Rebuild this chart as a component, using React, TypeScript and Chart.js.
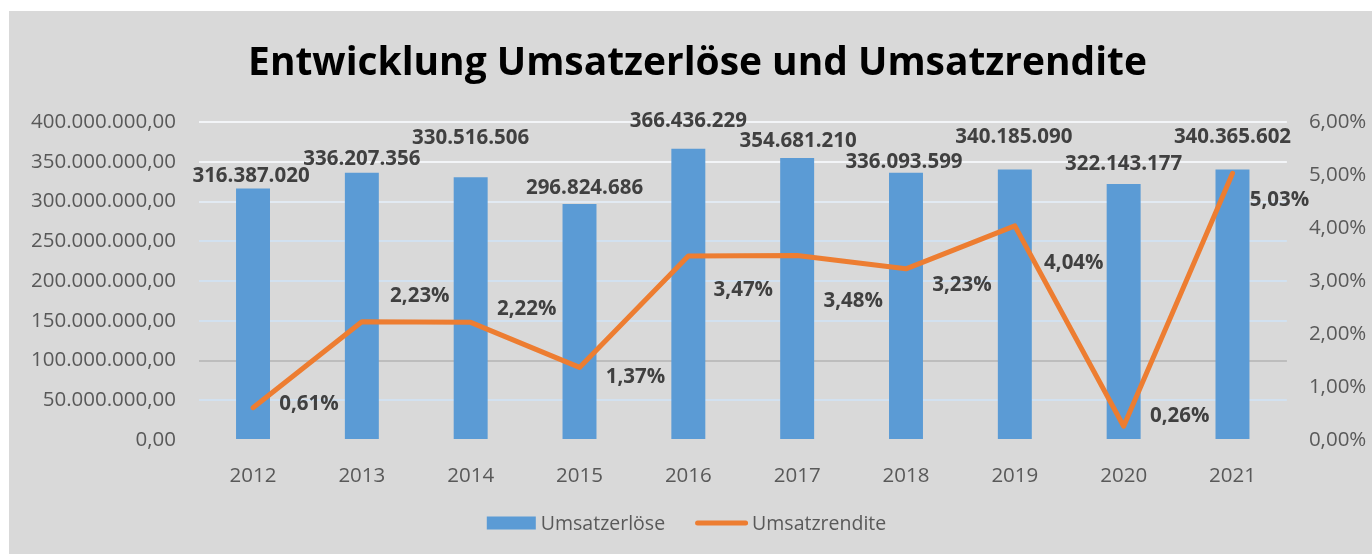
import React, { useEffect, useRef } from "react";
import { Chart, registerables } from "chart.js";

Chart.register(...registerables);

// ---- data ----
const years = ["2012", "2013", "2014", "2015", "2016", "2017", "2018", "2019", "2020", "2021"];
const umsatzerloese = [316387020, 336207356, 330516506, 296824686, 366436229, 354681210, 336093599, 340185090, 322143177, 340365602];
const umsatzrendite = [0.61, 2.23, 2.22, 1.37, 3.47, 3.48, 3.23, 4.04, 0.26, 5.03];
const leftAxisMax = 400000000;
const leftAxisStep = 50000000;
const rightAxisMax = 6;
const rightAxisStep = 1;
const chartTitle = "Entwicklung Umsatzerlöse und Umsatzrendite";
const seriesNames = ["Umsatzerlöse", "Umsatzrendite"];

// ---- styling ----
const W = 1363;
const H = 543;
const FONT = "'Open Sans', 'Noto Sans', sans-serif";
const BAR_COLOR = "#5b9bd5";
const LINE_COLOR = "#ed7d31";
const AXIS_TEXT = "#595959";
const LABEL_TEXT = "#404040";
const TICK_SIZE = 20.5;
const LABEL_SIZE = 20.5;
const LEGEND_SIZE = 19.5;

// manual label placement (pixel offsets from the mark), as in the original workbook
const barLabelOffsets: [number, number][] = [
  [-2, -14], [0, -15], [0, -41], [5, -17], [0, -29], [1, -18], [-2, -12], [-1, -34], [0, -21], [0, -34],
];
const lineLabelOffsets: [number, number][] = [
  [56, -5], [58, -27], [56, -15], [56, 8], [55, 33], [56, 44], [56, 15], [59, 36], [56, -12], [47, 25],
];

const formatDE = (n: number) =>
  Math.round(n).toString().replace(/\B(?=(\d{3})+(?!\d))/g, ".");
const formatPct = (v: number) => v.toFixed(2).replace(".", ",") + "%";

const gridColorFor = (v: number) => {
  if (v === 0) return "rgba(0,0,0,0)";
  if (v === 100000000) return "#bdbdbd";
  if (v >= 350000000) return "#f3f5f8";
  if (v === 300000000) return "#e2eaf3";
  return "#d2e1f0";
};

const decorPlugin = {
  id: "decor",
  afterDatasetsDraw(chart: any) {
    const ctx = chart.ctx as CanvasRenderingContext2D;
    ctx.save();
    ctx.fillStyle = LABEL_TEXT;
    ctx.font = `bold ${LABEL_SIZE}px ${FONT}`;
    ctx.textAlign = "center";
    ctx.textBaseline = "alphabetic";
    const capHalf = LABEL_SIZE * 0.357;
    const barMeta = chart.getDatasetMeta(0);
    barMeta.data.forEach((el: any, i: number) => {
      const [dx, dy] = barLabelOffsets[i];
      ctx.fillText(formatDE(umsatzerloese[i]), el.x + dx, el.y + dy + capHalf);
    });
    const lineMeta = chart.getDatasetMeta(1);
    lineMeta.data.forEach((el: any, i: number) => {
      const [dx, dy] = lineLabelOffsets[i];
      ctx.fillText(formatPct(umsatzrendite[i]), el.x + dx, el.y + dy + capHalf);
    });
    ctx.restore();
  },
  afterDraw(chart: any) {
    const ctx = chart.ctx as CanvasRenderingContext2D;
    ctx.save();
    // title
    ctx.fillStyle = "#000000";
    ctx.textAlign = "center";
    ctx.textBaseline = "alphabetic";
    ctx.font = `bold 40px ${FONT}`;
    const w40 = ctx.measureText(chartTitle).width;
    const titleSize = 40 * (899 / w40);
    ctx.font = `bold ${titleSize}px ${FONT}`;
    ctx.fillText(chartTitle, 688.5, 64);

    // legend
    ctx.font = `${LEGEND_SIZE}px ${FONT}`;
    ctx.textAlign = "left";
    ctx.fillStyle = AXIS_TEXT;
    const t1 = ctx.measureText(seriesNames[0]).width;
    const t2 = ctx.measureText(seriesNames[1]).width;
    const total = 49 + 5 + t1 + 30 + 53 + 4 + t2;
    let x = 677.5 - total / 2;
    const cy = 512;
    ctx.fillStyle = BAR_COLOR;
    ctx.fillRect(x, cy - 6.5, 49, 13);
    x += 49 + 5;
    ctx.fillStyle = AXIS_TEXT;
    ctx.fillText(seriesNames[0], x, cy + LEGEND_SIZE * 0.357);
    x += t1 + 30;
    ctx.strokeStyle = LINE_COLOR;
    ctx.lineWidth = 5;
    ctx.lineCap = "round";
    ctx.beginPath();
    ctx.moveTo(x + 2.5, cy);
    ctx.lineTo(x + 53 - 2.5, cy);
    ctx.stroke();
    x += 53 + 4;
    ctx.fillText(seriesNames[1], x, cy + LEGEND_SIZE * 0.357);
    ctx.restore();
  },
};

export default function App() {
  const ref = useRef<HTMLCanvasElement | null>(null);

  useEffect(() => {
    if (!ref.current) return;
    const chart = new Chart(ref.current, {
      type: "bar",
      data: {
        labels: years,
        datasets: [
          {
            type: "bar",
            label: seriesNames[0],
            data: umsatzerloese,
            backgroundColor: BAR_COLOR,
            borderWidth: 0,
            categoryPercentage: 1,
            barPercentage: 0.312,
            yAxisID: "y",
            order: 1,
          },
          {
            type: "line",
            label: seriesNames[1],
            data: umsatzrendite,
            borderColor: LINE_COLOR,
            backgroundColor: LINE_COLOR,
            borderWidth: 5,
            borderCapStyle: "round",
            borderJoinStyle: "round",
            pointRadius: 0,
            tension: 0,
            yAxisID: "y1",
            order: 0,
          },
        ] as any,
      },
      options: {
        responsive: false,
        animation: false,
        devicePixelRatio: 1,
        layout: { padding: { top: 111, left: 0, right: 0, bottom: 0 } },
        plugins: {
          legend: { display: false },
          title: { display: false },
          tooltip: { enabled: false },
        },
        scales: {
          x: {
            type: "category",
            offset: true,
            grid: { display: false },
            border: { display: false },
            ticks: {
              color: AXIS_TEXT,
              font: { family: FONT, size: TICK_SIZE },
              padding: 16,
              maxRotation: 0,
            },
            afterFit: (s: any) => {
              s.height = 114;
            },
          },
          y: {
            type: "linear",
            position: "left",
            min: 0,
            max: leftAxisMax,
            border: { display: false },
            grid: {
              drawTicks: false,
              lineWidth: 2,
              color: (c: any) => gridColorFor(c.tick ? c.tick.value : 0),
            },
            ticks: {
              stepSize: leftAxisStep,
              color: AXIS_TEXT,
              font: { family: FONT, size: TICK_SIZE },
              padding: 22.6,
              callback: (v: any) => formatDE(Number(v)) + ",00",
            },
            afterFit: (s: any) => {
              s.width = 189.6;
            },
          },
          y1: {
            type: "linear",
            position: "right",
            min: 0,
            max: rightAxisMax,
            border: { display: false },
            grid: { display: false, drawTicks: false },
            ticks: {
              stepSize: rightAxisStep,
              color: AXIS_TEXT,
              font: { family: FONT, size: TICK_SIZE },
              padding: 22,
              callback: (v: any) => formatPct(Number(v)),
            },
            afterFit: (s: any) => {
              s.width = 85.1;
            },
          },
        },
      } as any,
      plugins: [decorPlugin],
    });
    return () => chart.destroy();
  }, []);

  return (
    <div
      style={{
        position: "absolute",
        left: 9,
        top: 11,
        width: W,
        height: H,
        background: "#d9d9d9",
      }}
    >
      <canvas ref={ref} width={W} height={H} style={{ display: "block", width: W, height: H }} />
    </div>
  );
}
